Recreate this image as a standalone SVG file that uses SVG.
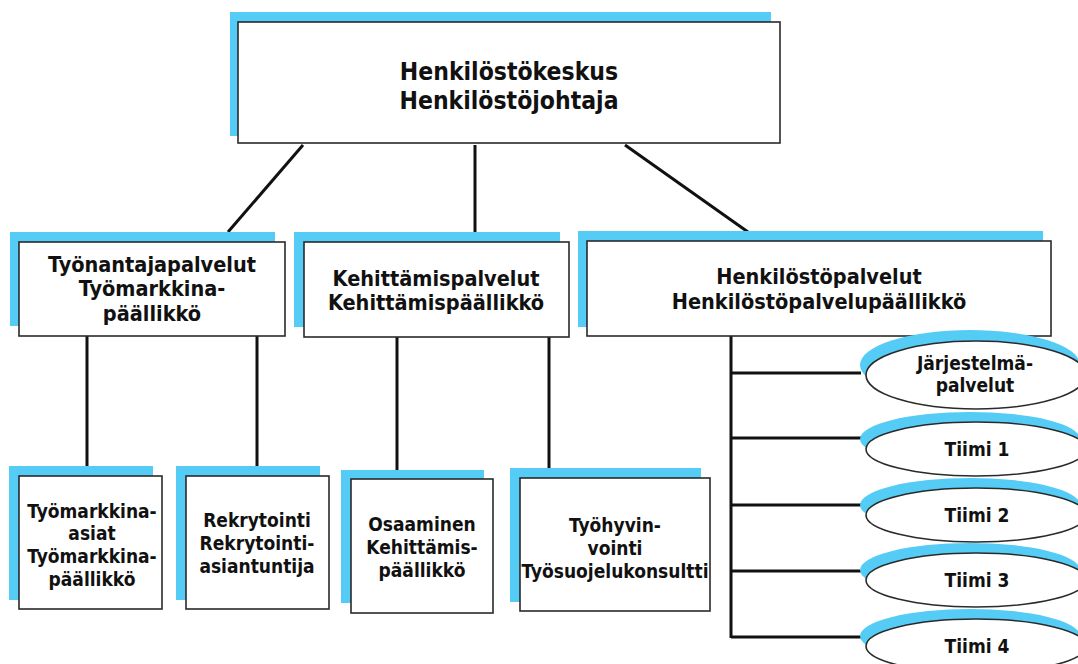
<svg xmlns="http://www.w3.org/2000/svg" width="1078" height="664" viewBox="0 0 1078 664">
<style>
.sh{fill:#55CCF6;stroke:none}
.bx{fill:#fff;stroke:#2a2a2a;stroke-width:1.6}
.t{font-family:"DejaVu Sans Condensed","DejaVu Sans","Liberation Sans",sans-serif;font-stretch:condensed;font-weight:bold;fill:#111;text-anchor:middle}
.t1{font-size:24.5px}
.t2{font-size:21.5px}
.t3{font-size:19px}
.c{stroke:#111;stroke-width:3;fill:none}
</style>
<rect width="1078" height="664" fill="#fff"/>
<g id="connectors">
<line class="c" x1="303" y1="145" x2="228" y2="232"/>
<line class="c" x1="475" y1="145" x2="475" y2="240"/>
<line class="c" x1="625" y1="145" x2="748" y2="232"/>
<line class="c" x1="87" y1="336" x2="87" y2="467"/>
<line class="c" x1="257" y1="336" x2="257" y2="467"/>
<line class="c" x1="397" y1="337" x2="397" y2="470"/>
<line class="c" x1="549" y1="337" x2="549" y2="468"/>
<line class="c" x1="731" y1="336" x2="731" y2="638"/>
<line class="c" x1="731" y1="373" x2="861" y2="373"/>
<line class="c" x1="731" y1="438" x2="861" y2="438"/>
<line class="c" x1="731" y1="505" x2="861" y2="505"/>
<line class="c" x1="731" y1="571" x2="861" y2="571"/>
<line class="c" x1="731" y1="637" x2="861" y2="637"/>
</g>
<g id="n-top">
<rect class="sh" x="230" y="12" width="541" height="124"/>
<rect class="bx" x="238" y="22" width="542" height="121"/>
<text class="t t1" x="509" y="80">Henkilöstökeskus</text>
<text class="t t1" x="509" y="109">Henkilöstöjohtaja</text>
</g>
<g id="n-tyonantaja">
<rect class="sh" x="10" y="232" width="265" height="94"/>
<rect class="bx" x="19" y="242" width="266" height="94"/>
<text class="t t2" x="152" y="272">Työnantajapalvelut</text>
<text class="t t2" x="152" y="296">Työmarkkina-</text>
<text class="t t2" x="152" y="321">päällikkö</text>
</g>
<g id="n-kehittamis">
<rect class="sh" x="294" y="232" width="266" height="95"/>
<rect class="bx" x="304" y="242" width="265" height="95"/>
<text class="t t2" x="436" y="286">Kehittämispalvelut</text>
<text class="t t2" x="436" y="310">Kehittämispäällikkö</text>
</g>
<g id="n-henkilostopalvelut">
<rect class="sh" x="578" y="231" width="465" height="96"/>
<rect class="bx" x="587" y="241" width="464" height="95"/>
<text class="t t2" x="819" y="284">Henkilöstöpalvelut</text>
<text class="t t2" x="819" y="309">Henkilöstöpalvelupäällikkö</text>
</g>
<g id="n-tyomarkkina-asiat">
<rect class="sh" x="9" y="466" width="144" height="134"/>
<rect class="bx" x="19" y="476" width="143" height="133"/>
<text class="t t3" x="92" y="518">Työmarkkina-</text>
<text class="t t3" x="92" y="540">asiat</text>
<text class="t t3" x="92" y="563">Työmarkkina-</text>
<text class="t t3" x="92" y="586">päällikkö</text>
</g>
<g id="n-rekrytointi">
<rect class="sh" x="176" y="466" width="144" height="134"/>
<rect class="bx" x="186" y="476" width="143" height="133"/>
<text class="t t3" x="257" y="527">Rekrytointi</text>
<text class="t t3" x="257" y="550">Rekrytointi-</text>
<text class="t t3" x="257" y="573">asiantuntija</text>
</g>
<g id="n-osaaminen">
<rect class="sh" x="341" y="470" width="143" height="133"/>
<rect class="bx" x="351" y="479" width="142" height="134"/>
<text class="t t3" x="422" y="531">Osaaminen</text>
<text class="t t3" x="422" y="554">Kehittämis-</text>
<text class="t t3" x="422" y="577">päällikkö</text>
</g>
<g id="n-tyohyvinvointi">
<rect class="sh" x="510" y="468" width="191" height="134"/>
<rect class="bx" x="520" y="478" width="190" height="133"/>
<text class="t t3" x="615" y="532">Työhyvin-</text>
<text class="t t3" x="615" y="555">vointi</text>
<text class="t t3" x="615" y="578">Työsuojelukonsultti</text>
</g>
<g id="n-jarjestelma">
<ellipse class="sh" cx="970" cy="365" rx="110" ry="35"/>
<ellipse class="bx" cx="976" cy="375" rx="110" ry="34"/>
<text class="t t3" x="975" y="370">Järjestelmä-</text>
<text class="t t3" x="975" y="392">palvelut</text>
</g>
<g id="n-tiimi1">
<ellipse class="sh" cx="970" cy="439" rx="110" ry="27"/>
<ellipse class="bx" cx="976" cy="449" rx="110" ry="27"/>
<text class="t t3" x="977" y="456">Tiimi 1</text>
</g>
<g id="n-tiimi2">
<ellipse class="sh" cx="970" cy="505" rx="110" ry="27"/>
<ellipse class="bx" cx="976" cy="515" rx="110" ry="27"/>
<text class="t t3" x="977" y="522">Tiimi 2</text>
</g>
<g id="n-tiimi3">
<ellipse class="sh" cx="970" cy="570" rx="110" ry="27"/>
<ellipse class="bx" cx="976" cy="580" rx="110" ry="27"/>
<text class="t t3" x="977" y="587">Tiimi 3</text>
</g>
<g id="n-tiimi4">
<ellipse class="sh" cx="970" cy="636" rx="110" ry="27"/>
<ellipse class="bx" cx="976" cy="646" rx="110" ry="27"/>
<text class="t t3" x="977" y="653">Tiimi 4</text>
</g>
</svg>
